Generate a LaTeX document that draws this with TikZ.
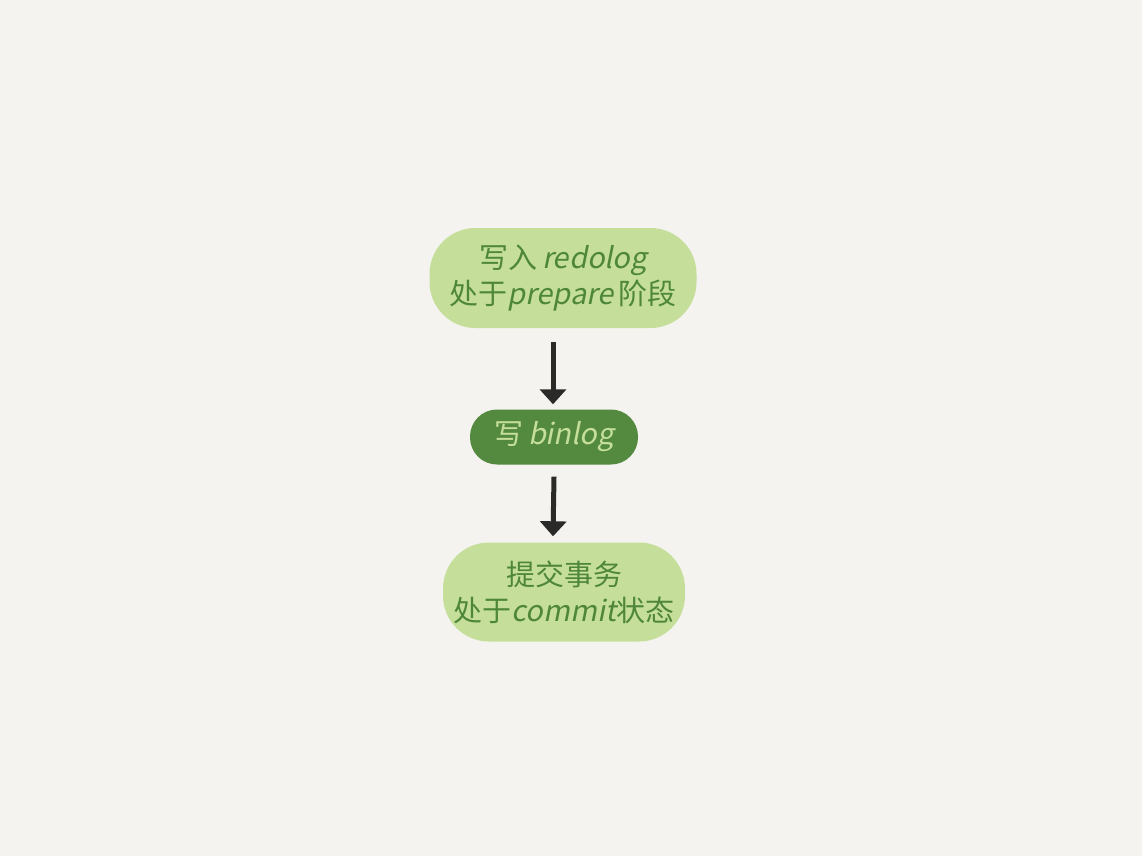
\documentclass[tikz,border=0pt]{standalone}
\usepackage{fontspec}
\setmainfont{Noto Sans CJK SC}
\newfontfamily\cjkf{Noto Sans CJK SC}
\newfontfamily\latf[FakeSlant=0.2]{Noto Sans CJK SC}
\newcommand\lt[1]{{\latf #1}}
\usetikzlibrary{arrows.meta}
\definecolor{bg}{HTML}{F4F3EF}
\definecolor{lightg}{HTML}{C5DF9A}
\definecolor{darkg}{HTML}{548A3F}
\definecolor{txtg}{HTML}{4F873A}
\definecolor{arr}{HTML}{2A2A28}
\tikzset{
  blob/.style={rectangle, rounded corners=46pt, fill=lightg, text=txtg, align=center,
    font=\cjkf\fontsize{29}{36}\selectfont, inner sep=0pt},
  darkblob/.style={rectangle, rounded corners=27pt, fill=darkg, text=lightg, align=center,
    font=\cjkf\fontsize{29}{36}\selectfont, inner sep=0pt},
  flow/.style={draw=arr, line width=5pt, -{Triangle[width=26pt,length=15pt]}}
}
\begin{document}
\begin{tikzpicture}[x=1pt,y=-1pt]
\fill[bg] (0,0) rectangle (1142,856);
\useasboundingbox (0,0) rectangle (1142,856);
\node[blob, minimum width=267pt, minimum height=100pt] (a) at (563,278) {写入\,\lt{redolog}\\处于\lt{prepare}\,阶段};
\node[darkblob, minimum width=168pt, minimum height=55pt] (b) at (554,437) {写\,\lt{binlog}};
\node[blob, minimum width=242pt, minimum height=99pt] (c) at (564,592) {提交事务\\处于\lt{commit}状态};
\draw[flow] ([xshift=-10pt,yshift=-14pt]a.south) -- ([xshift=-1pt,yshift=5pt]b.north);
\draw[flow] ([yshift=-12pt]b.south) -- ([xshift=-11pt,yshift=6pt]c.north);
\end{tikzpicture}
\end{document}
